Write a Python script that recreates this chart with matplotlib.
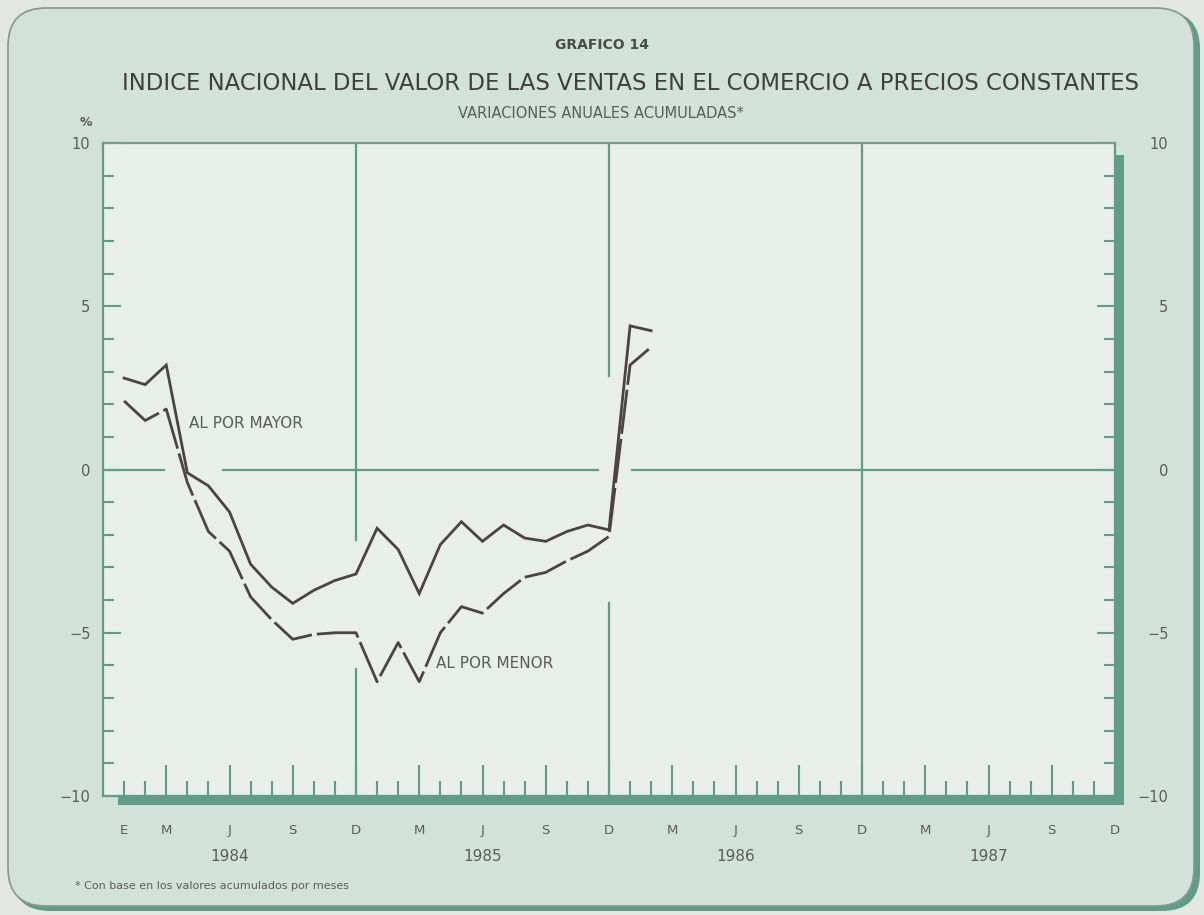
import matplotlib.pyplot as plt
import matplotlib.patches as mpatches
import numpy as np

# meses: 1 = enero 1984 ... 26 = febrero 1986 (valor a fin de mes)
meses = np.arange(1, 27)
al_por_mayor = [2.8, 2.6, 3.2, -0.1, -0.5, -1.3, -2.9, -3.6, -4.1, -3.7, -3.4, -3.2,
                -1.8, -2.45, -3.8, -2.3, -1.6, -2.2, -1.7, -2.1, -2.2, -1.9, -1.7, -1.85,
                4.4, 4.25]
al_por_menor = [2.1, 1.5, 1.85, -0.4, -1.9, -2.5, -3.9, -4.6, -5.2, -5.05, -5.0, -5.0,
                -6.5, -5.3, -6.5, -5.0, -4.2, -4.4, -3.8, -3.3, -3.15, -2.8, -2.5, -2.05,
                3.2, 3.75]

anios = ['1984', '1985', '1986', '1987']
meses_trimestre = ['M', 'J', 'S', 'D']
yticks = [-10, -5, 0, 5, 10]

BG_OUT = '#e3e7e3'
BG_PANEL = '#d2e2da'
BG_PLOT = '#e8eeea'
TEAL = '#5f9d8a'
LINE = '#4d4343'
TXT = '#5b5b5b'

fig = plt.figure(figsize=(12.04, 9.15), dpi=100)
fig.patch.set_facecolor(BG_OUT)

# marco redondeado del grafico (en pixeles)
bg = fig.add_axes([0, 0, 1, 1], zorder=-5)
bg.set_xlim(0, 1204)
bg.set_ylim(0, 915)
bg.axis('off')
bg.add_patch(mpatches.FancyBboxPatch((12, 4), 1188, 900, boxstyle='round,pad=0,rounding_size=38',
                                     facecolor=TEAL, edgecolor='none'))
bg.add_patch(mpatches.FancyBboxPatch((8, 9), 1186, 898, boxstyle='round,pad=0,rounding_size=38',
                                     facecolor=BG_PANEL, edgecolor='#8a9690', linewidth=1.2))

ax = fig.add_axes([103 / 1204, 1 - 796 / 915, 1012 / 1204, 653 / 915])
ax.set_facecolor(BG_PLOT)
ax.set_xlim(0, 48)
ax.set_ylim(-10, 10)

# sombra del marco
ax.add_patch(mpatches.Rectangle((1.0, -9 / 653), 9 / 1012, 1 - 3 / 653, transform=ax.transAxes,
                                facecolor=TEAL, edgecolor='none', clip_on=False, zorder=1))
ax.add_patch(mpatches.Rectangle((15 / 1012, -9 / 653), 1 + (9 - 15) / 1012, 9 / 653,
                                transform=ax.transAxes, facecolor=TEAL, edgecolor='none',
                                clip_on=False, zorder=1))

for s in ax.spines.values():
    s.set_color(TEAL)
    s.set_linewidth(1.6)
ax.spines['top'].set_color('#7c9a90')

# lineas de referencia (interrumpidas como en el original)
kw = dict(color=TEAL, linewidth=1.6, zorder=2)
ax.plot([0, 2.9], [0, 0], **kw)
ax.plot([5.7, 23.5], [0, 0], **kw)
ax.plot([25.1, 48], [0, 0], **kw)
ax.plot([12, 12], [10, -2.15], **kw)
ax.plot([12, 12], [-6.1, -10], **kw)
ax.plot([24, 24], [10, 2.85], **kw)
ax.plot([24, 24], [-4.1, -10], **kw)
ax.plot([36, 36], [10, -10], **kw)

ax.plot(meses, al_por_mayor, color=LINE, linewidth=2.0, zorder=4, solid_joinstyle='miter')
ax.plot(meses, al_por_menor, color=LINE, linewidth=2.0, zorder=4, dashes=(16, 1.8))

ax.text(4.1, 1.4, 'AL POR MAYOR', fontsize=11, color=TXT, va='center', ha='left')
ax.text(15.8, -5.95, 'AL POR MENOR', fontsize=11, color=TXT, va='center', ha='left')

# eje x: meses
pos_lab = [1] + [12 * a + m for a in range(4) for m in (3, 6, 9, 12)]
lab = ['E'] + meses_trimestre * 4
ax.set_xticks(pos_lab)
ax.set_xticklabels(lab)
ax.set_xticks(np.arange(1, 48), minor=True)
ax.tick_params(axis='x', which='major', direction='in', length=22, width=1.5, color=TEAL,
               labelsize=9.5, labelcolor=TXT, pad=20)
ax.tick_params(axis='x', which='minor', direction='in', length=11, width=1.5, color=TEAL)
ax.xaxis.get_major_ticks()[0].tick1line.set_markersize(11)
for i, a in enumerate(anios):
    ax.text(6 + 12 * i, -0.092, a, transform=ax.get_xaxis_transform(), ha='center',
            va='center', fontsize=11, color=TXT)

# eje y
ax.set_yticks(yticks)
ax.set_yticklabels([str(v).replace('-', '\u2212') for v in yticks])
ax.set_yticks(np.arange(-9, 10), minor=True)
ax.tick_params(axis='y', which='major', direction='in', length=13, width=1.5, color=TEAL,
               labelsize=10.5, labelcolor=TXT, left=True, right=True, labelleft=True,
               labelright=True, pad=9)
ax.tick_params(axis='y', which='minor', direction='in', length=8, width=1.5, color=TEAL,
               left=True, right=True)
for t in ax.yaxis.get_major_ticks():
    t.label2.set_x(1 + 41 / 1012)
    t.label2.set_horizontalalignment('right')

# titulos
fig.text(602 / 1204, 1 - 45 / 915, 'GRAFICO 14', ha='center', va='center', fontsize=10,
         fontweight='bold', color='#4a4a4a')
fig.text(630 / 1204, 1 - 83 / 915,
         'INDICE NACIONAL DEL VALOR DE LAS VENTAS EN EL COMERCIO A PRECIOS CONSTANTES',
         ha='center', va='center', fontsize=16.4, color='#3f3f3f')
fig.text(601 / 1204, 1 - 114 / 915, 'VARIACIONES ANUALES ACUMULADAS*', ha='center',
         va='center', fontsize=10.5, color=TXT)
fig.text(86 / 1204, 1 - 122 / 915, '%', ha='center', va='center', fontsize=9,
         fontweight='bold', color=TXT)
fig.text(75 / 1204, 1 - 886 / 915, '* Con base en los valores acumulados por meses',
         ha='left', va='center', fontsize=8, color=TXT)

plt.savefig('out.png', dpi=100, facecolor=fig.get_facecolor())
plt.close()
